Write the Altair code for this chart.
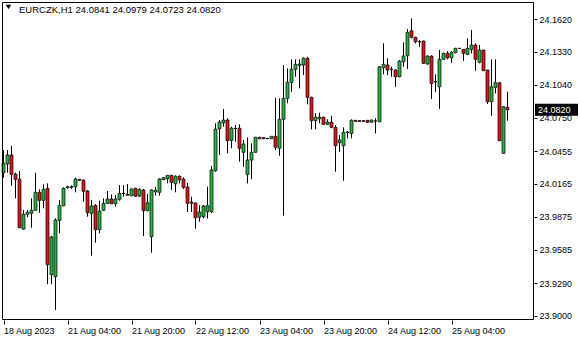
import altair as alt
import numpy as np
import pandas as pd

symbol = "EURCZK,H1"

opens = [24.0264, 24.0341, 24.0420, 24.0252, 24.0206, 23.9767, 23.9897, 23.9906, 23.9932, 24.0091,
         24.0020, 24.0126, 23.9364, 23.9347, 23.9844, 23.9973, 24.0132, 24.0135, 24.0140, 24.0206,
         24.0197, 24.0103, 23.9906, 23.9976, 23.9761, 23.9932, 23.9994, 24.0032, 23.9990, 24.0029,
         24.0082, 24.0073, 24.0061, 24.0126, 24.0058, 24.0111, 23.9929, 23.9699, 24.0096, 24.0091,
         24.0202, 24.0211, 24.0241, 24.0167, 24.0232, 24.0208, 24.0138, 24.0005, 23.9997, 23.9871,
         23.9876, 23.9920, 23.9920, 24.0282, 24.0652, 24.0705, 24.0729, 24.0550, 24.0656, 24.0656,
         24.0444, 24.0250, 24.0376, 24.0444, 24.0576, 24.0574, 24.0566, 24.0564, 24.0585, 24.0479,
         24.0735, 24.0920, 24.1061, 24.1176, 24.1211, 24.1214, 24.1273, 24.0929, 24.0723, 24.0740,
         24.0753, 24.0691, 24.0709, 24.0664, 24.0529, 24.0502, 24.0620, 24.0611, 24.0726, 24.0724,
         24.0722, 24.0726, 24.0709, 24.0720, 24.0714, 24.1190, 24.1214, 24.1176, 24.1170, 24.1111,
         24.1243, 24.1296, 24.1516, 24.1458, 24.1419, 24.1426, 24.1223, 24.1293, 24.1067, 24.1022,
         24.1264, 24.1317, 24.1278, 24.1323, 24.1361, 24.1352, 24.1308, 24.1352, 24.1390, 24.1238,
         24.1346, 24.1170, 24.0890, 24.1017, 24.1058, 24.0435, 24.0841]
highs = [24.0464, 24.0464, 24.0502, 24.0264, 24.0279, 23.9935, 23.9935, 24.0038, 24.0264, 24.0117,
         24.0162, 24.0170, 23.9706, 23.9862, 24.0023, 24.0135, 24.0149, 24.0152, 24.0220, 24.0208,
         24.0206, 24.0111, 24.0023, 23.9988, 24.0017, 24.0038, 24.0103, 24.0073, 24.0067, 24.0155,
         24.0155, 24.0164, 24.0126, 24.0132, 24.0126, 24.0120, 24.0076, 24.0117, 24.0140, 24.0215,
         24.0226, 24.0244, 24.0244, 24.0241, 24.0241, 24.0223, 24.0173, 24.0052, 24.0000, 23.9976,
         23.9979, 24.0140, 24.0323, 24.0700, 24.0729, 24.0826, 24.0744, 24.0670, 24.0685, 24.0691,
         24.0552, 24.0576, 24.0523, 24.0581, 24.0581, 24.0578, 24.0572, 24.0588, 24.0925, 24.0920,
         24.1214, 24.1185, 24.1264, 24.1264, 24.1264, 24.1282, 24.1287, 24.0935, 24.0788, 24.0793,
         24.0758, 24.0735, 24.0767, 24.0685, 24.0596, 24.0664, 24.0632, 24.0735, 24.0729, 24.0729,
         24.0729, 24.0729, 24.0732, 24.0744, 24.1205, 24.1405, 24.1273, 24.1199, 24.1176, 24.1258,
         24.1414, 24.1531, 24.1626, 24.1464, 24.1434, 24.1429, 24.1299, 24.1299, 24.1132, 24.1346,
         24.1323, 24.1337, 24.1337, 24.1366, 24.1364, 24.1355, 24.1449, 24.1523, 24.1405, 24.1390,
         24.1348, 24.1172, 24.1264, 24.1264, 24.1060, 24.0852, 24.0979]
lows = [24.0220, 24.0264, 24.0149, 24.0038, 23.9775, 23.9761, 23.9871, 23.9779, 23.9930, 23.9911,
        23.9950, 23.9280, 23.9280, 23.9053, 23.9729, 23.9968, 24.0123, 24.0120, 24.0091, 24.0193,
        24.0008, 23.9876, 23.9532, 23.9647, 23.9729, 23.9926, 23.9988, 23.9988, 23.9964, 24.0017,
        24.0052, 24.0061, 24.0056, 24.0052, 24.0050, 23.9706, 23.9923, 23.9558, 24.0061, 24.0061,
        24.0200, 24.0170, 24.0111, 24.0091, 24.0170, 24.0120, 23.9917, 23.9917, 23.9770, 23.9832,
        23.9862, 23.9862, 23.9908, 24.0273, 24.0420, 24.0670, 24.0435, 24.0479, 24.0537, 24.0361,
        24.0317, 24.0170, 24.0206, 24.0441, 24.0560, 24.0560, 24.0560, 24.0561, 24.0464, 24.0414,
        23.9885, 24.0876, 24.0978, 24.1111, 24.1008, 24.1126, 24.0867, 24.0647, 24.0647, 24.0700,
        24.0685, 24.0685, 24.0656, 24.0273, 24.0449, 24.0193, 24.0567, 24.0567, 24.0714, 24.0714,
        24.0714, 24.0706, 24.0706, 24.0611, 24.0709, 24.1132, 24.1126, 24.1111, 24.1022, 24.1105,
        24.1199, 24.1179, 24.1449, 24.1405, 24.1375, 24.1223, 24.1217, 24.0914, 24.0978, 24.0826,
        24.1258, 24.1264, 24.1234, 24.1317, 24.1358, 24.1249, 24.1302, 24.1317, 24.1164, 24.1229,
        24.1161, 24.0870, 24.0767, 24.0964, 24.0544, 24.0429, 24.0723]
closes = [24.0347, 24.0420, 24.0250, 24.0206, 23.9779, 23.9897, 23.9915, 23.9932, 24.0091, 24.0020,
          24.0117, 23.9452, 23.9697, 23.9847, 23.9976, 24.0126, 24.0140, 24.0142, 24.0208, 24.0197,
          24.0100, 23.9911, 23.9970, 23.9761, 23.9926, 23.9994, 24.0032, 23.9990, 24.0032, 24.0082,
          24.0080, 24.0065, 24.0120, 24.0056, 24.0117, 23.9929, 23.9999, 24.0111, 24.0109, 24.0208,
          24.0220, 24.0241, 24.0179, 24.0232, 24.0202, 24.0135, 23.9994, 23.9994, 23.9867, 23.9917,
          23.9970, 23.9973, 24.0288, 24.0649, 24.0711, 24.0729, 24.0546, 24.0656, 24.0654, 24.0479,
          24.0517, 24.0376, 24.0444, 24.0576, 24.0564, 24.0564, 24.0566, 24.0585, 24.0488, 24.0735,
          24.0920, 24.1061, 24.1176, 24.1220, 24.1223, 24.1273, 24.0929, 24.0723, 24.0753, 24.0753,
          24.0691, 24.0711, 24.0664, 24.0502, 24.0552, 24.0620, 24.0622, 24.0726, 24.0717, 24.0717,
          24.0717, 24.0709, 24.0729, 24.0721, 24.1199, 24.1220, 24.1170, 24.1176, 24.1111, 24.1249,
          24.1293, 24.1502, 24.1458, 24.1419, 24.1419, 24.1229, 24.1293, 24.1052, 24.1067, 24.1264,
          24.1317, 24.1278, 24.1326, 24.1361, 24.1361, 24.1317, 24.1361, 24.1390, 24.1264, 24.1346,
          24.1164, 24.0890, 24.1022, 24.1058, 24.0546, 24.0846, 24.0820]

time_tick_bars = [0, 16, 32, 48, 64, 80, 96, 112]
time_tick_labels = ["18 Aug 2023", "21 Aug 04:00", "21 Aug 20:00", "22 Aug 12:00",
                    "23 Aug 04:00", "23 Aug 20:00", "24 Aug 12:00", "25 Aug 04:00"]
price_ticks = [24.1620, 24.1330, 24.1040, 24.0750, 24.0455, 24.0165,
               23.9875, 23.9585, 23.9290, 23.9000]

FONT = "Liberation Sans"
FS = 9
W, H = 532, 318
GREEN = "#22b83c"
RED = "#e41414"

df = pd.DataFrame({"i": np.arange(len(opens)), "open": opens, "high": highs,
                   "low": lows, "close": closes})
df["dir"] = np.where(df["close"] >= df["open"], "up", "down")
df["top"] = df[["open", "close"]].max(axis=1)
df["bot"] = df[["open", "close"]].min(axis=1)

xs = alt.Scale(domain=[-0.375, 132.625], nice=False, zero=False, padding=0)
ys = alt.Scale(domain=[23.896471, 24.176997], nice=False, zero=False, padding=0)

label_arr = "[" + ",".join("'%s'" % s for s in time_tick_labels) + "]"
x_axis = alt.Axis(values=time_tick_bars, labelExpr=label_arr + "[round(datum.value/16)]",
                  orient="bottom", title=None, grid=False, domain=False, tickCount=20,
                  tickSize=4, tickColor="black", labelAlign="left",
                  labelBaseline="top", labelPadding=2, labelFont=FONT, labelFontSize=FS,
                  labelColor="black", labelFlush=False, labelOverlap=False, labelBound=False)
y_axis = alt.Axis(values=price_ticks, format=".4f", orient="right", title=None,
                  grid=False, domain=False, tickCount=20, tickSize=3, tickColor="black",
                  labelPadding=2, labelFont=FONT, labelFontSize=FS, labelColor="black",
                  labelBaseline="middle", labelFlush=False, labelOverlap=False, labelBound=False)

base = alt.Chart(df)

# upper and lower shadows drawn as separate segments so they never cover the body
upper_wick = base.mark_rule(color="black", strokeWidth=1).encode(
    x=alt.X("i:Q", scale=xs, axis=x_axis),
    y=alt.Y("high:Q", scale=ys, axis=y_axis),
    y2="top:Q",
)
lower_wick = base.mark_rule(color="black", strokeWidth=1).encode(
    x=alt.X("i:Q", scale=xs),
    y=alt.Y("bot:Q", scale=ys),
    y2="low:Q",
)

# candle body: 3 px coloured rect with a thin black outline
bodies = base.transform_calculate(
    xl="datum.i - 0.375", xr="datum.i + 0.375"
).mark_rect(stroke="black", strokeWidth=0.7).encode(
    x=alt.X("xl:Q", scale=xs),
    x2="xr:Q",
    y=alt.Y("top:Q", scale=ys),
    y2="bot:Q",
    fill=alt.Fill("dir:N", scale=alt.Scale(domain=["up", "down"], range=[GREEN, RED]),
                  legend=None),
)

frame = alt.Chart(pd.DataFrame({"a": [0]})).mark_rect(
    filled=False, stroke="black", strokeWidth=1
).encode(x=alt.value(0.5), x2=alt.value(W - 0.5), y=alt.value(0.5), y2=alt.value(H - 0.5))

last = df.iloc[[-1]].copy()
last["label"] = last["close"].map(lambda v: "%.4f" % v)
price_box = alt.Chart(last).mark_rule(color="black", strokeWidth=12, strokeCap="butt").encode(
    x=alt.value(W + 1), x2=alt.value(W + 44), y=alt.Y("close:Q", scale=ys))
price_text = alt.Chart(last).mark_text(
    align="left", baseline="middle", color="white", font=FONT, fontSize=FS
).encode(x=alt.value(W + 4), y=alt.Y("close:Q", scale=ys), text="label:N")

header = pd.DataFrame({"t": ["%s  %.4f %.4f %.4f %.4f" % (symbol, opens[-1], highs[-1],
                                                          lows[-1], closes[-1])]})
title_text = alt.Chart(header).mark_text(
    align="left", baseline="middle", color="black", font=FONT, fontSize=FS + 0.5
).encode(x=alt.value(17), y=alt.value(8), text="t:N")
tri = alt.Chart(header).mark_point(
    shape="triangle-down", filled=True, color="black", size=28, opacity=1
).encode(x=alt.value(6.5), y=alt.value(5))

chart = alt.layer(upper_wick, lower_wick, bodies, frame, price_box,
                  price_text, title_text, tri).properties(
    width=W, height=H,
    autosize=alt.AutoSizeParams(type="none"),
    padding={"left": 2, "top": 2, "right": 46, "bottom": 20},
    background="white",
).configure_view(stroke=None).configure_axis(labelOverlap=False)

chart.save("out.html", embed_options={"renderer": "svg", "actions": False})
